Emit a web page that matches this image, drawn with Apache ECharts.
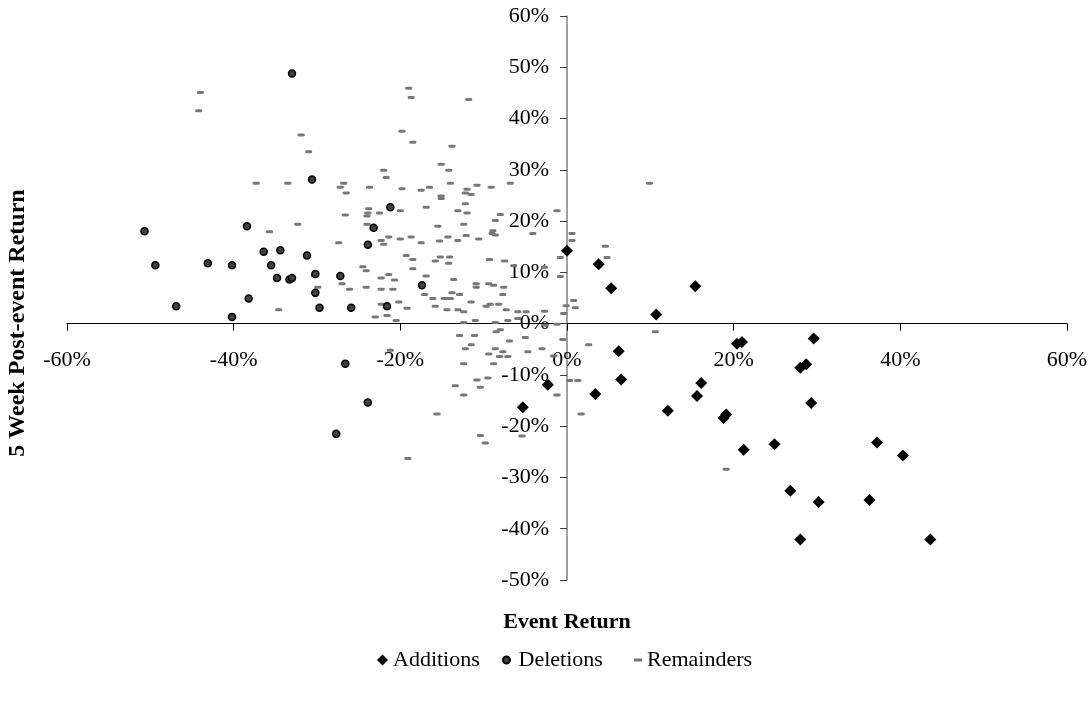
<!DOCTYPE html>
<html>
<head>
<meta charset="utf-8">
<script src="https://cdn.jsdelivr.net/npm/echarts@6/dist/echarts.min.js"></script>
<style>
  html, body { margin: 0; padding: 0; background: #fff; }
  #chart { width: 1092px; height: 702px; }
</style>
</head>
<body>
<div id="chart"></div>
<script>
// Event return (x, %) vs 5-week post-event return (y, %)
const additions = [
  [0.0, 14.2], [3.8, 11.6], [5.3, 6.9], [15.4, 7.3], [10.7, 1.8], [6.2, -5.4],
  [6.5, -10.9], [3.4, -13.7], [-2.3, -11.9], [-5.3, -16.3], [12.1, -17.0], [16.1, -11.6],
  [15.6, -14.1], [18.8, -18.4], [19.1, -17.7], [20.4, -3.9], [21.0, -3.6], [21.2, -24.6],
  [24.9, -23.5], [28.0, -8.6], [28.7, -7.9], [29.6, -2.9], [29.3, -15.5], [37.2, -23.2],
  [40.3, -25.7], [26.8, -32.6], [30.2, -34.8], [36.3, -34.4], [28.0, -42.1], [43.6, -42.1]
];

const deletions = [
  [-33.0, 48.8], [-30.6, 28.1], [-50.7, 18.0], [-38.4, 19.0], [-49.4, 11.4], [-43.1, 11.8],
  [-40.2, 11.4], [-36.4, 14.0], [-34.4, 14.3], [-31.2, 13.3], [-35.5, 11.4], [-34.8, 8.9],
  [-33.3, 8.6], [-33.0, 8.9], [-30.2, 9.7], [-27.2, 9.3], [-30.2, 6.0], [-38.2, 4.9],
  [-46.9, 3.4], [-40.2, 1.3], [-29.7, 3.1], [-25.9, 3.1], [-26.6, -7.8], [-27.7, -21.5],
  [-21.2, 22.7], [-23.2, 18.7], [-23.9, 15.4], [-21.6, 3.4], [-17.4, 7.5], [-23.9, -15.4]
];

const remainders = [
  [-44.0, 45.1], [-44.2, 41.5], [-37.3, 27.4], [-35.7, 17.9], [-34.6, 2.7],
  [-19.0, 45.9], [-18.7, 44.1], [-31.9, 36.8], [-19.8, 37.5], [-31.0, 33.5], [-18.5, 35.4],
  [-22.0, 29.9], [-21.7, 28.5], [-33.5, 27.4], [-26.8, 27.4], [-27.2, 26.6], [-26.5, 25.5],
  [-23.7, 26.6], [-19.8, 26.3], [-26.6, 21.2], [-23.8, 22.4], [-23.9, 21.6], [-24.0, 21.0],
  [-22.5, 21.6], [-20.0, 22.0], [-32.3, 19.4], [-24.0, 19.4], [-27.4, 15.8], [-21.4, 16.9],
  [-22.3, 16.2], [-22.0, 15.5], [-20.0, 16.5], [-18.7, 16.9],
  [-11.8, 43.7], [-13.8, 34.6], [-15.1, 31.1], [-14.2, 29.9], [-14.0, 27.4], [-17.5, 26.0],
  [-16.5, 26.6], [-15.1, 24.9], [-15.1, 24.4], [-12.0, 26.2], [-12.2, 25.5], [-11.5, 25.2],
  [-10.8, 27.0], [-9.1, 26.6], [-6.8, 27.4], [-16.9, 22.7], [-12.2, 23.4], [-13.1, 22.0],
  [-12.0, 21.6], [-15.5, 19.0], [-12.4, 19.4], [-8.0, 21.3], [-8.6, 20.1], [-1.2, 22.0],
  [-4.1, 17.6], [-8.9, 18.1], [-9.0, 17.6], [-8.6, 17.3], [-17.5, 15.8], [-15.3, 16.1],
  [-14.3, 16.9], [-13.1, 16.2], [-12.1, 17.2], [-10.6, 16.5],
  [-19.3, 13.3], [-18.5, 12.5], [-18.5, 10.7], [-24.5, 11.1], [-24.1, 10.3], [-30.3, 9.3],
  [-29.9, 7.1], [-27.0, 7.8], [-26.1, 6.7], [-24.1, 7.1], [-22.3, 8.9], [-21.4, 9.6],
  [-20.7, 8.5], [-22.3, 6.7], [-20.9, 6.7], [-22.3, 3.8], [-20.2, 4.2], [-19.2, 3.0],
  [-21.6, 1.6], [-23.0, 1.3], [-20.5, 0.6], [-21.2, -5.2],
  [-15.8, 12.2], [-15.2, 13.0], [-14.1, 13.0], [-14.2, 11.8], [-9.3, 12.5], [-7.5, 12.2],
  [-6.4, 11.3], [-16.9, 9.3], [-13.6, 8.6], [-10.9, 7.8], [-10.9, 7.1], [-9.4, 7.8],
  [-8.8, 7.5], [-7.6, 7.1], [-17.1, 5.7], [-16.1, 4.9], [-14.7, 4.9], [-14.0, 4.9],
  [-13.8, 6.0], [-12.9, 5.7], [-11.5, 4.2], [-15.8, 3.4], [-14.4, 2.7], [-13.1, 2.7],
  [-12.4, 2.3], [-9.7, 3.4], [-9.2, 3.8], [-8.2, 3.8], [-7.7, 5.7], [-7.3, 2.7],
  [-5.9, 2.3], [-4.9, 2.3], [-12.4, 0.2], [-11.0, 0.6], [-8.6, 0.2], [-7.1, 0.6],
  [-5.9, 1.0], [-12.9, -2.3], [-11.1, -2.3], [-8.5, -1.6], [-8.0, -1.2], [-6.9, -3.4],
  [-5.0, -2.7], [-11.5, -4.1], [-12.2, -4.9], [-8.6, -4.9], [-9.4, -5.9], [-7.7, -5.5],
  [-8.1, -6.4], [-7.1, -6.4], [-4.7, -5.5], [-12.4, -7.8], [-8.8, -7.8], [-10.8, -11.0],
  [-9.5, -10.6], [-13.4, -12.1], [-10.4, -12.4], [-12.4, -13.9], [-15.6, -17.6], [-10.4, -21.8],
  [-9.8, -23.3], [-5.4, -21.9],
  [9.9, 27.4], [0.6, 17.6], [0.6, 16.2], [4.6, 15.1], [4.8, 12.9], [-0.8, 12.9],
  [-2.7, 11.0], [-0.8, 9.2], [0.8, 4.5], [1.0, 3.1], [-0.1, 3.5], [-0.4, 2.0],
  [-2.7, 2.4], [-2.6, -0.3], [-1.2, -0.1], [10.6, -1.6], [-0.5, -3.1], [-3.0, -4.9],
  [2.6, -4.1], [-1.6, -6.3], [0.3, -11.1], [1.3, -11.1], [-1.2, -13.9], [1.7, -17.6],
  [19.1, -28.4], [-19.1, -26.3]
];

const seriesNames = ['Additions', 'Deletions', 'Remainders'];
const xTitle = 'Event Return';
const yTitle = '5 Week Post-event Return';
const xRange = [-60, 60, 20];
const yRange = [-50, 60, 10];

const FONT = '"Liberation Serif", "Times New Roman", serif';

// plot area
const GRID = { left: 67, right: 25, top: 16, bottom: 122 };
const W = 1092, H = 702;
const plotW = W - GRID.left - GRID.right;
const plotH = H - GRID.top - GRID.bottom;
// shift each axis from the plot edge to the other axis' zero
const xAxisShift = -plotH * (0 - yRange[0]) / (yRange[1] - yRange[0]);
const yAxisShift = -plotW * (0 - xRange[0]) / (xRange[1] - xRange[0]);

const chart = echarts.init(document.getElementById('chart'), null, { renderer: 'canvas' });

const legendBase = {
  top: 644,
  textStyle: { fontFamily: FONT, fontSize: 22, color: '#000' },
  itemGap: 0,
  selectedMode: false,
  symbolKeepAspect: true
};

chart.setOption({
  animation: false,
  backgroundColor: '#fff',
  grid: Object.assign({ containLabel: false, outerBoundsMode: 'none' }, GRID),
  xAxis: {
    type: 'value',
    position: 'bottom',
    offset: xAxisShift,
    min: xRange[0], max: xRange[1], interval: xRange[2],
    axisLine: { onZero: false, lineStyle: { color: '#000', width: 1 } },
    axisTick: { show: true, inside: false, length: 7, lineStyle: { color: '#000' } },
    axisLabel: {
      margin: 26,
      formatter: '{value}%',
      fontFamily: FONT, fontSize: 22, color: '#000'
    },
    splitLine: { show: false },
    name: xTitle,
    nameLocation: 'middle',
    nameGap: 288,
    nameTextStyle: { fontFamily: FONT, fontSize: 22, fontWeight: 'bold', color: '#000' }
  },
  yAxis: {
    type: 'value',
    position: 'left',
    offset: yAxisShift,
    min: yRange[0], max: yRange[1], interval: yRange[2],
    axisLine: { onZero: false, lineStyle: { color: '#808080', width: 1.5 } },
    axisTick: { show: true, inside: false, length: 7, lineStyle: { color: '#404040' } },
    axisLabel: {
      margin: 18,
      formatter: '{value}%',
      fontFamily: FONT, fontSize: 22, color: '#000'
    },
    splitLine: { show: false },
    name: yTitle,
    nameLocation: 'middle',
    nameGap: 537,
    nameRotate: 90,
    nameTextStyle: {
      fontFamily: FONT, fontSize: 24, fontWeight: 'bold', color: '#000',
      padding: [0, 50, 0, 0]
    }
  },
  legend: [
    Object.assign({}, legendBase, { data: [seriesNames[0]], left: 372, itemWidth: 11, itemHeight: 11 }),
    Object.assign({}, legendBase, { data: [seriesNames[1]], left: 497, itemWidth: 14, itemHeight: 7 }),
    Object.assign({}, legendBase, {
      data: [{ name: seriesNames[2], icon: 'path://M0,0h8v3h-8z' }],
      left: 629, itemWidth: 8, itemHeight: 8
    })
  ],
  series: [
    {
      name: seriesNames[2],
      type: 'scatter',
      data: remainders,
      symbol: 'roundRect',
      symbolSize: [7, 3],
      itemStyle: { color: '#777777', opacity: 1 },
      z: 2
    },
    {
      name: seriesNames[1],
      type: 'scatter',
      data: deletions,
      symbol: 'circle',
      symbolSize: 7,
      itemStyle: { color: '#404040', borderColor: '#000', borderWidth: 1.5, opacity: 1 },
      z: 3
    },
    {
      name: seriesNames[0],
      type: 'scatter',
      data: additions,
      symbol: 'diamond',
      symbolSize: 12,
      itemStyle: { color: '#000', opacity: 1 },
      z: 4
    }
  ]
});
</script>
</body>
</html>
